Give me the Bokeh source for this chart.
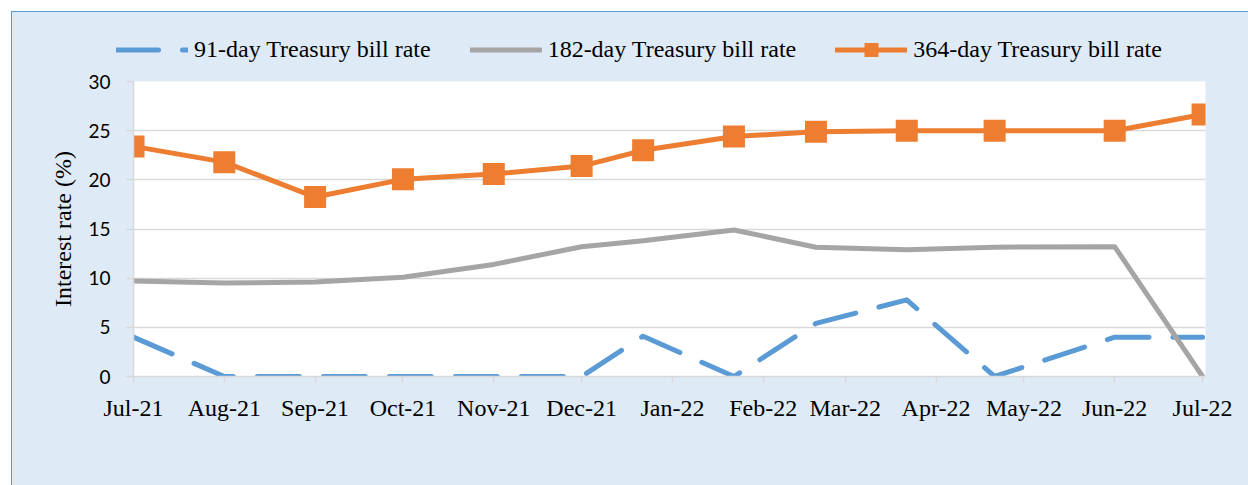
import pandas as pd
from bokeh.plotting import figure
from bokeh.layouts import column
from bokeh.models import (ColumnDataSource, Legend, LegendItem, FixedTicker, Range1d,
                          CustomJSTickFormatter)
from bokeh.embed import file_html
from bokeh.resources import INLINE

# ---- data ----
dates = ["2021-07-01", "2021-08-01", "2021-09-01", "2021-10-01", "2021-11-01", "2021-12-01",
         "2021-12-22", "2022-01-22", "2022-02-19", "2022-03-22", "2022-04-21", "2022-06-01",
         "2022-07-01"]
rate_91 = [4.0, 0.0, 0.0, 0.0, 0.0, 0.0, 4.1, 0.0, 5.4, 7.8, 0.0, 4.0, 4.0]
rate_182 = [9.7, 9.5, 9.6, 10.1, 11.4, 13.2, 13.8, 14.9, 13.15, 12.9, 13.15, 13.2, 0.0]
rate_364 = [23.4, 21.8, 18.25, 20.05, 20.6, 21.4, 23.0, 24.4, 24.9, 25.0, 25.0, 25.0, 26.65]
series_names = ["91-day Treasury bill rate", "182-day Treasury bill rate", "364-day Treasury bill rate"]
tick_dates = ["2021-07-01", "2021-08-01", "2021-09-01", "2021-10-01", "2021-11-01", "2021-12-01",
              "2022-01-01", "2022-02-01", "2022-03-01", "2022-04-01", "2022-05-01", "2022-06-01",
              "2022-07-01"]
tick_labels = ["Jul-21", "Aug-21", "Sep-21", "Oct-21", "Nov-21", "Dec-21", "Jan-22", "Feb-22",
               "Mar-22", "Apr-22", "May-22", "Jun-22", "Jul-22"]
y_ticks = [0, 5, 10, 15, 20, 25, 30]

source = ColumnDataSource(dict(date=pd.to_datetime(dates), r91=rate_91, r182=rate_182, r364=rate_364))

def ms(d):
    return pd.Timestamp(d).value / 1e6

BLUE = "#5B9BD5"
GRAY = "#A5A5A5"
ORANGE = "#ED7D31"
BG = "#DEEBF7"
GRID = "#D9D9D9"

style_91 = dict(line_color=BLUE, line_width=5, line_dash="42 24", line_cap="round", line_join="round")
style_182 = dict(line_color=GRAY, line_width=5, line_cap="round", line_join="round")
style_364 = dict(line_color=ORANGE, line_width=5, line_cap="round", line_join="round")
style_sq = dict(marker="square", fill_color=ORANGE, line_color=ORANGE, line_width=0)

# ---- legend strip (its own figure, series drawn off-range so only the legend shows) ----
lp = figure(width=1236, height=55, output_backend="svg", toolbar_location=None,
            x_axis_location=None, y_axis_location=None,
            x_range=Range1d(0, 1), y_range=Range1d(0, 1), min_border=0,
            background_fill_color=BG, border_fill_color=BG, outline_line_color=None)
if "frame_align" in lp.properties():
    lp.frame_align = False
lp.grid.visible = False
l91 = lp.line("date", "r91", source=source, **style_91)
l182 = lp.line("date", "r182", source=source, **style_182)
l364 = lp.line("date", "r364", source=source, **style_364)
l364m = lp.scatter("date", "r364", source=source, size=14, **style_sq)
legend = Legend(items=[LegendItem(label=series_names[0], renderers=[l91]),
                       LegendItem(label=series_names[1], renderers=[l182]),
                       LegendItem(label=series_names[2], renderers=[l364, l364m])],
                orientation="horizontal", location=(104, 0), padding=0, margin=0,
                spacing=39, glyph_width=72, glyph_height=35, label_standoff=6,
                label_text_font="Liberation Serif", label_text_font_size="24px",
                label_text_color="black", border_line_color=None, background_fill_alpha=0)
lp.add_layout(legend)

# ---- main chart ----
p = figure(width=1236, height=418, x_axis_type="datetime", output_backend="svg",
           toolbar_location=None,
           x_range=Range1d(ms("2021-07-01"), ms("2022-07-02")),
           y_range=Range1d(0, 30),
           min_border_left=121, min_border_top=14, min_border_right=43, min_border_bottom=109,
           background_fill_color="white", border_fill_color=BG, outline_line_color=None)
if "frame_align" in p.properties():
    p.frame_align = False

p.line("date", "r91", source=source, **style_91)
p.line("date", "r182", source=source, **style_182)
p.line("date", "r364", source=source, **style_364)
p.scatter("date", "r364", source=source, size=22, **style_sq)

xa = p.xaxis[0]
xa.ticker = FixedTicker(ticks=[ms(d) for d in tick_dates])
xa.formatter = CustomJSTickFormatter(args=dict(labels=tick_labels), code="return labels[index];")
xa.axis_line_color = GRID
xa.axis_line_width = 1.5
xa.major_tick_line_color = GRID
xa.major_tick_line_width = 1.5
xa.major_tick_out = 6
xa.major_tick_in = 0
xa.minor_tick_line_color = None
xa.major_label_text_font = "Liberation Serif"
xa.major_label_text_font_size = "24px"
xa.major_label_text_color = "black"
xa.major_label_standoff = 12

ya = p.yaxis[0]
ya.ticker = FixedTicker(ticks=y_ticks)
ya.axis_line_color = GRID
ya.axis_line_width = 1.5
ya.major_tick_line_color = GRID
ya.major_tick_line_width = 1.5
ya.major_tick_out = 8
ya.major_tick_in = 0
ya.minor_tick_line_color = None
ya.major_label_text_font = "Lato"
ya.major_label_text_font_size = "19px"
ya.major_label_text_color = "black"
ya.major_label_standoff = 15
ya.axis_label = "Interest rate (%)"
ya.axis_label_text_font = "Liberation Serif"
ya.axis_label_text_font_size = "24px"
ya.axis_label_text_font_style = "normal"
ya.axis_label_text_color = "black"
ya.axis_label_standoff = 9

p.xgrid.grid_line_color = None
p.ygrid.grid_line_color = GRID
p.ygrid.grid_line_width = 1.3

layout = column(lp, p, spacing=0)
layout.styles = {"margin-left": "11px", "margin-top": "11px", "background-color": BG,
                 "border-left": "1px solid " + BLUE, "border-top": "1px solid " + BLUE}

open("out.html", "w").write(file_html(layout, INLINE))
